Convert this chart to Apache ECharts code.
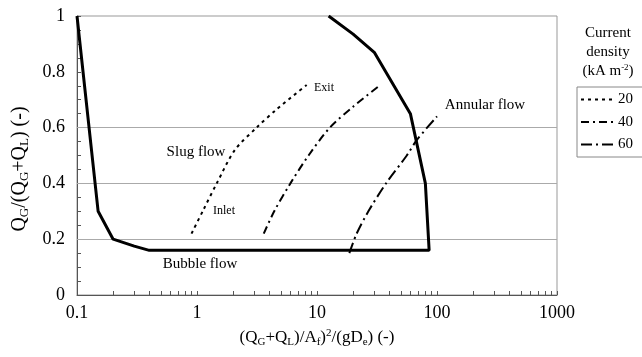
<!DOCTYPE html>
<html>
<head>
<meta charset="utf-8">
<script src="https://cdn.jsdelivr.net/npm/echarts@6/dist/echarts.min.js"></script>
<style>
html, body { margin: 0; padding: 0; background: #fff; }
#chart { width: 642px; height: 357px; }
</style>
</head>
<body>
<div id="chart"></div>
<script>
var serif = '"Liberation Serif", "DejaVu Serif", serif';

// flow regime boundary
var boundary = [[0.1, 1], [0.15, 0.3], [0.2, 0.2], [0.3, 0.175], [0.4, 0.16], [86, 0.16],
    [80, 0.4], [60, 0.65], [30, 0.87], [20, 0.935], [12.5, 1]];
// current density curves (inlet -> exit)
var cd20 = [[0.9, 0.22], [1.13, 0.305], [1.46, 0.40], [2.07, 0.52], [3.14, 0.60], [4.6, 0.665], [8.2, 0.753]];
var cd40 = [[3.6, 0.22], [4.4, 0.30], [6.0, 0.40], [8.5, 0.50], [12.8, 0.60], [20, 0.675], [33, 0.75]];
var cd60 = [[18.6, 0.15], [21.4, 0.22], [26.8, 0.30], [37.6, 0.40], [56, 0.50], [68, 0.556], [100, 0.64]];
var gridLevels = [0.2, 0.4, 0.6];

// log axis ticks: 1..9 in each decade
var xTicks = [];
[0.1, 1, 10, 100].forEach(function (d) {
    for (var k = 1; k < 10; k++) xTicks.push(+(d * k).toPrecision(2));
});
xTicks.push(1000);
// y ticks every 0.05
var yTicks = [];
for (var i = 0; i <= 20; i++) yTicks.push(+(i * 0.05).toFixed(2));

var chart = echarts.init(document.getElementById('chart'));

var o = {
    backgroundColor: '#fff',
    animation: false,
    textStyle: { fontFamily: serif, color: '#000' },
    grid: {
        left: 77, top: 16, right: 85, bottom: 62,
        show: true, borderColor: '#999', borderWidth: 1
    },
    legend: {
        orient: 'vertical',
        left: 577, top: 87,
        itemWidth: 32, itemHeight: 14, itemGap: 7.5,
        padding: [5, 12, 5, 3],
        borderColor: '#888', borderWidth: 1,
        itemStyle: { opacity: 0 },
        textStyle: { fontFamily: serif, fontSize: 15, color: '#000' },
        data: ['20', '40', '60']
    },
    xAxis: {
        type: 'log',
        min: 0.1, max: 1000,
        logBase: 10,
        name: '(Q{s|G}+Q{s|L})/A{s|f}){p|2}/(gD{s|e}) (-)',
        nameLocation: 'middle',
        nameGap: 33,
        nameTextStyle: {
            fontFamily: serif, fontSize: 17, color: '#000',
            rich: {
                s: { fontFamily: serif, fontSize: 11, verticalAlign: 'bottom', padding: [9, 0, 0, 0] },
                p: { fontFamily: serif, fontSize: 11, verticalAlign: 'top', padding: [0, 0, 9, 0] }
            }
        },
        axisLine: { lineStyle: { color: '#555' } },
        axisTick: { inside: true, length: 4, customValues: xTicks, lineStyle: { color: '#555' } },
        axisLabel: {
            fontFamily: serif, fontSize: 18, color: '#000', margin: 9,
            formatter: function (v) { return String(v); }
        },
        splitLine: { show: false }
    },
    yAxis: {
        type: 'value',
        min: 0, max: 1, interval: 0.2,
        axisLine: { show: true, lineStyle: { color: '#555' } },
        axisTick: { inside: true, length: 4, customValues: yTicks, lineStyle: { color: '#555' } },
        axisLabel: { fontFamily: serif, fontSize: 18, color: '#000', margin: 12 },
        splitLine: { show: false }
    },
    graphic: [
        { type: 'text', x: 20, y: 169, rotation: Math.PI / 2,
            style: { text: 'Q{s|G}/(Q{s|G}+Q{s|L}) (-)', font: '20px ' + serif, fill: '#000', align: 'center', verticalAlign: 'middle',
                rich: { s: { font: '13px ' + serif, fill: '#000', verticalAlign: 'bottom', padding: [10, 0, 0, 0] } } } },
        { type: 'text', x: 608, y: 33, style: { text: 'Current', font: '15px ' + serif, fill: '#000', align: 'center', verticalAlign: 'middle' } },
        { type: 'text', x: 608, y: 52, style: { text: 'density', font: '15px ' + serif, fill: '#000', align: 'center', verticalAlign: 'middle' } },
        { type: 'text', x: 608, y: 71, style: { text: '(kA m{p|-2})', font: '15px ' + serif, fill: '#000', align: 'center', verticalAlign: 'middle',
            rich: { p: { font: '9px ' + serif, fill: '#000', verticalAlign: 'top', padding: [0, 0, 7, 0] } } } },
        { type: 'text', x: 196, y: 152, style: { text: 'Slug flow', font: '15px ' + serif, fill: '#000', align: 'center', verticalAlign: 'middle' } },
        { type: 'text', x: 200, y: 264, style: { text: 'Bubble flow', font: '15px ' + serif, fill: '#000', align: 'center', verticalAlign: 'middle' } },
        { type: 'text', x: 485, y: 105, style: { text: 'Annular flow', font: '15px ' + serif, fill: '#000', align: 'center', verticalAlign: 'middle' } },
        { type: 'text', x: 224, y: 211, style: { text: 'Inlet', font: '12px ' + serif, fill: '#000', align: 'center', verticalAlign: 'middle' } },
        { type: 'text', x: 324, y: 88, style: { text: 'Exit', font: '12px ' + serif, fill: '#000', align: 'center', verticalAlign: 'middle' } }
    ],
    series: [
        {
            name: 'boundary',
            type: 'line',
            data: boundary,
            symbol: 'none',
            lineStyle: { color: '#000', width: 3 },
            markLine: {
                silent: true,
                symbol: 'none',
                label: { show: false },
                lineStyle: { color: '#aaa', width: 1, type: 'solid' },
                data: gridLevels.map(function (v) { return { yAxis: v }; }),
                z: 1
            },
            z: 5
        },
        {
            name: '20',
            type: 'line',
            data: cd20,
            smooth: 0.3,
            symbol: 'none',
            itemStyle: { color: '#000' },
            lineStyle: { color: '#000', width: 2, type: [3, 4] }
        },
        {
            name: '40',
            type: 'line',
            data: cd40,
            smooth: 0.3,
            symbol: 'none',
            itemStyle: { color: '#000' },
            lineStyle: { color: '#000', width: 2, type: [8, 4, 2, 4] }
        },
        {
            name: '60',
            type: 'line',
            data: cd60,
            smooth: 0.3,
            symbol: 'none',
            itemStyle: { color: '#000' },
            lineStyle: { color: '#000', width: 2, type: [11, 4, 2, 4] }
        }
    ]
};

chart.setOption(o);
</script>
</body>
</html>
